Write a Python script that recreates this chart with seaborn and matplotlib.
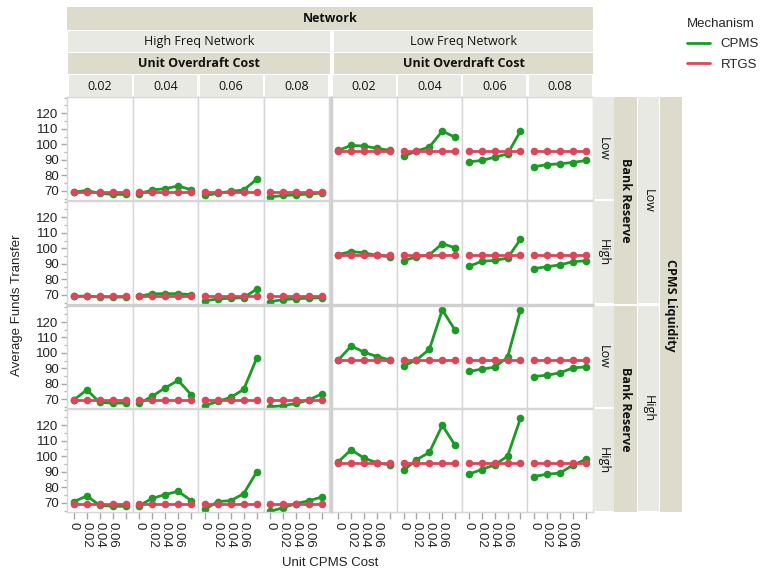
import matplotlib
matplotlib.use("Agg")
import pandas as pd
import matplotlib.pyplot as plt
import seaborn as sns
from matplotlib.patches import Rectangle
from matplotlib.lines import Line2D
from matplotlib.ticker import MultipleLocator

# Data
cpms_cost = [0, 0.02, 0.04, 0.06, 0.08]
overdraft_cost = [0.02, 0.04, 0.06, 0.08]
networks = ["High Freq Network", "Low Freq Network"]
liquidity_levels = ["Low", "High"]
reserve_levels = ["Low", "High"]

rtgs_high_freq = 69.3
rtgs_low_freq = [96.0, 95.4, 95.4, 95.4]

# one row per unit overdraft cost, one value per unit CPMS cost
cpms_liq_low_res_low_hf = [
    [69.3, 70.3, 68.5, 67.8, 67.8],
    [68.3, 70.6, 71.5, 73.2, 70.8],
    [67.1, 68.5, 69.8, 70.6, 77.6],
    [66.2, 67.1, 67.5, 68.1, 68.7],
]
cpms_liq_low_res_low_lf = [
    [96.1, 99.3, 98.9, 97.4, 96.1],
    [92.3, 95.7, 98.2, 108.5, 104.5],
    [88.7, 89.6, 91.7, 93.8, 108.5],
    [85.6, 86.9, 87.5, 88.3, 89.6],
]
cpms_liq_low_res_high_hf = [
    [69.2, 69.3, 68.8, 68.6, 68.7],
    [69.2, 70.8, 70.8, 70.8, 70.2],
    [66.2, 67.5, 67.9, 68.3, 73.8],
    [65.8, 67.0, 67.7, 67.9, 68.3],
]
cpms_liq_low_res_high_lf = [
    [96.0, 97.9, 97.1, 95.4, 94.6],
    [92.0, 94.6, 95.8, 103.0, 100.3],
    [88.4, 91.6, 92.2, 93.7, 105.8],
    [86.9, 88.2, 89.3, 91.4, 92.0],
]
cpms_liq_high_res_low_hf = [
    [69.4, 76.0, 67.8, 67.4, 67.4],
    [67.2, 71.9, 77.3, 82.1, 72.8],
    [65.7, 68.5, 71.1, 76.3, 96.5],
    [65.0, 65.7, 67.2, 69.6, 73.4],
]
cpms_liq_high_res_low_lf = [
    [95.4, 104.4, 100.4, 97.6, 95.4],
    [91.5, 95.4, 102.3, 127.9, 114.6],
    [87.9, 89.4, 90.7, 97.1, 127.9],
    [84.6, 85.5, 87.0, 90.2, 90.9],
]
cpms_liq_high_res_high_hf = [
    [70.9, 74.5, 68.5, 67.9, 67.9],
    [68.3, 73.0, 75.4, 77.5, 71.5],
    [65.9, 70.9, 71.5, 76.0, 90.0],
    [64.6, 67.0, 69.6, 71.5, 73.9],
]
cpms_liq_high_res_high_lf = [
    [96.5, 104.2, 98.8, 95.8, 94.5],
    [90.9, 97.8, 102.5, 119.9, 107.0],
    [88.5, 91.5, 94.5, 100.1, 124.4],
    [87.0, 88.5, 89.2, 94.3, 98.0],
]

cpms_series = {
    ("Low", "Low", "High Freq Network"): cpms_liq_low_res_low_hf,
    ("Low", "Low", "Low Freq Network"): cpms_liq_low_res_low_lf,
    ("Low", "High", "High Freq Network"): cpms_liq_low_res_high_hf,
    ("Low", "High", "Low Freq Network"): cpms_liq_low_res_high_lf,
    ("High", "Low", "High Freq Network"): cpms_liq_high_res_low_hf,
    ("High", "Low", "Low Freq Network"): cpms_liq_high_res_low_lf,
    ("High", "High", "High Freq Network"): cpms_liq_high_res_high_hf,
    ("High", "High", "Low Freq Network"): cpms_liq_high_res_high_lf,
}

row_keys = [(l, r) for l in liquidity_levels for r in reserve_levels]
col_keys = [(n, o) for n in networks for o in overdraft_cost]
row_order = [f"{l}|{r}" for l, r in row_keys]
col_order = [f"{n}|{o}" for n, o in col_keys]

records = []
for ri, (liq, res) in enumerate(row_keys):
    for net in networks:
        for oi, od in enumerate(overdraft_cost):
            cp = cpms_series[(liq, res, net)][oi]
            rt = rtgs_high_freq if net == networks[0] else rtgs_low_freq[ri]
            for xi, x in enumerate(cpms_cost):
                records.append((f"{liq}|{res}", f"{net}|{od}", "CPMS", x, cp[xi]))
                records.append((f"{liq}|{res}", f"{net}|{od}", "RTGS", x, rt))
df = pd.DataFrame(records, columns=["Row", "Col", "Mechanism", "Unit CPMS Cost",
                                    "Average Funds Transfer"])

green = "#1c9a26"
red = "#d9485a"
dark_strip = "#dcdbcc"
light_strip = "#e9e9e3"
grid_grey = "#d6d6d6"

sns.set_theme(style="white")
plt.rcParams["font.family"] = ["Liberation Sans", "DejaVu Sans"]
strip_font = ["Open Sans", "DejaVu Sans"]

g = sns.FacetGrid(df, row="Row", col="Col", hue="Mechanism",
                  row_order=row_order, col_order=col_order,
                  hue_order=["CPMS", "RTGS"], palette=[green, red],
                  despine=False, height=1.2, aspect=1)
g.map_dataframe(sns.lineplot, x="Unit CPMS Cost", y="Average Funds Transfer",
                marker="o", markersize=5.5, markeredgewidth=0, linewidth=2,
                errorbar=None)

fig = g.figure
fig.set_size_inches(7.63, 5.73)
W, H = 763.0, 573.0

col_left = [67, 132.5, 198, 263.5, 331.5, 396.75, 462, 527.25]
col_width = [65.5] * 4 + [65.25] * 4
row_span = [(97, 200), (201, 304), (306, 408), (409, 512)]

for i in range(4):
    for j in range(8):
        ax = g.axes[i, j]
        y0, y1 = row_span[i]
        ax.set_position([col_left[j] / W, 1 - y1 / H, col_width[j] / W, (y1 - y0) / H])
        ax.set_title("")
        ax.set_xlabel("")
        ax.set_ylabel("")
        ax.set_xlim(-0.0105, 0.0905)
        ax.set_ylim(64.2, 130.4)
        ax.set_facecolor("white")
        for s in ax.spines.values():
            s.set_color(grid_grey)
            s.set_linewidth(1)
        ax.set_yticks([70, 80, 90, 100, 110, 120])
        ax.yaxis.set_minor_locator(MultipleLocator(5))
        ax.set_xticks(cpms_cost)
        if j == 0:
            ax.tick_params(axis="y", which="major", left=True, length=4, width=1,
                           color="#a8a8a8", labelsize=9.5, labelcolor="#222222", pad=2)
            ax.tick_params(axis="y", which="minor", left=True, length=2.5, width=1,
                           color="#b8b8b8")
            ax.set_yticklabels(["70", "80", "90", "100", "110", "120"])
        else:
            ax.tick_params(axis="y", which="both", left=False, labelleft=False)
        if i == 3:
            ax.set_xticklabels(["0", "0.02", "0.04", "0.06", ""], rotation=270)
            ax.tick_params(axis="x", bottom=True, length=5, width=1, color="#a8a8a8",
                           labelsize=9.5, labelcolor="#222222", pad=2)
        else:
            ax.tick_params(axis="x", bottom=False, labelbottom=False)


def box(x0, y0, x1, y1, color):
    fig.add_artist(Rectangle((x0 / W, 1 - y1 / H), (x1 - x0) / W, (y1 - y0) / H,
                             transform=fig.transFigure, facecolor=color,
                             edgecolor="none"))


def label(x, y, s, bold=False, rot=0, size=9):
    fig.text(x / W, 1 - y / H, s, ha="center", va="center", rotation=rot,
             fontsize=size, fontweight="bold" if bold else "normal",
             family=strip_font, color="#111111")


# column strips
box(67, 7, 593, 30, dark_strip)
label(330, 18.5, "Network", bold=True)
net_spans = [(68, 330), (334, 593)]
for (x0, x1), net in zip(net_spans, networks):
    box(x0, 31, x1, 52, light_strip)
    label((x0 + x1) / 2, 41.5, net)
    box(x0, 53, x1, 74, dark_strip)
    label((x0 + x1) / 2, 63.5, "Unit Overdraft Cost", bold=True)
for j, (net, od) in enumerate(col_keys):
    box(col_left[j] + 1.5, 75, col_left[j] + col_width[j] - 1, 97, light_strip)
    label(col_left[j] + col_width[j] / 2, 86, f"{od:.2f}")

# row strips
for i, (liq, res) in enumerate(row_keys):
    y0, y1 = row_span[i]
    box(593, y0, 614, y1 - 1, light_strip)
    label(603.5, (y0 + y1) / 2, res, rot=270)
for k, liq in enumerate(liquidity_levels):
    y0, y1 = (97, 304) if k == 0 else (306, 512)
    box(614, y0, 637, y1, dark_strip)
    label(625.5, (y0 + y1) / 2, "Bank Reserve", bold=True, rot=270)
    box(638, y0, 659, y1 - 1, light_strip)
    label(648.5, (y0 + y1) / 2, liq, rot=270)
box(660, 97, 682, 512, dark_strip)
label(671, 305, "CPMS Liquidity", bold=True, rot=270)

# heavier separators between network / liquidity groups
fig.add_artist(Line2D([331 / W, 331 / W], [1 - 97 / H, 1 - 512 / H],
                      transform=fig.transFigure, color="#cfcfcf", lw=2))
fig.add_artist(Line2D([67 / W, 593 / W], [1 - 305 / H, 1 - 305 / H],
                      transform=fig.transFigure, color="#cfcfcf", lw=2))

fig.text(17 / W, 1 - 305 / H, "Average Funds Transfer", rotation=90,
         ha="center", va="center", fontsize=9.5, color="#222222")
fig.text(330 / W, 1 - 563 / H, "Unit CPMS Cost", ha="center", va="center",
         fontsize=9.5, color="#222222")

handles = [Line2D([], [], color=green, lw=2), Line2D([], [], color=red, lw=2)]
fig.legend(handles=handles, labels=["CPMS", "RTGS"], title="Mechanism",
           loc="upper left", bbox_to_anchor=(687 / W, 1 - 18 / H), frameon=False,
           borderpad=0, borderaxespad=0, fontsize=9.5, title_fontsize=9.5,
           handlelength=1.75, handletextpad=0.8, labelspacing=0.62,
           alignment="left")

fig.savefig("out.png", dpi=100)
